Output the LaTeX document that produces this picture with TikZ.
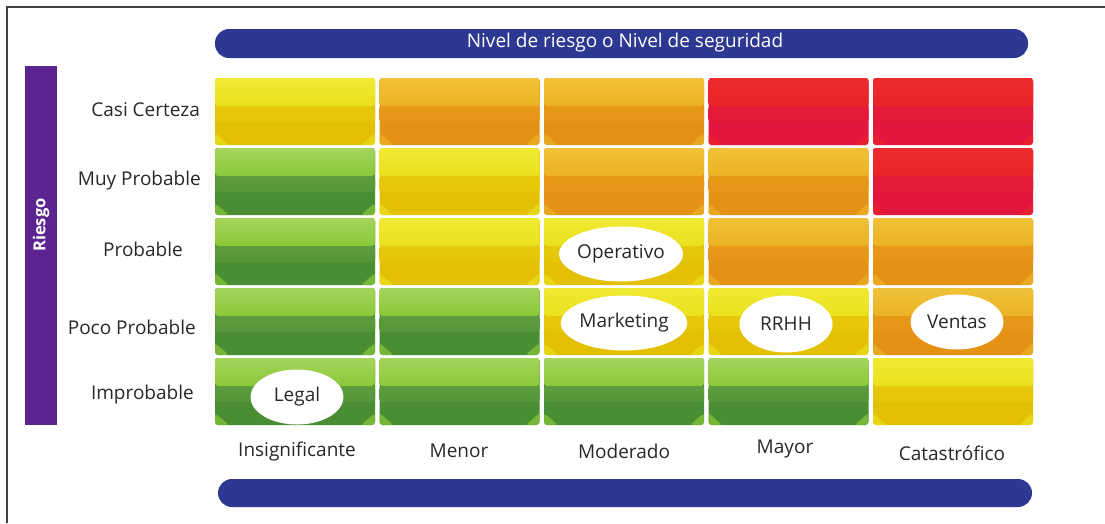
\documentclass[tikz,border=0pt]{standalone}
\usepackage{fontspec}
\setmainfont{Open Sans}
\usetikzlibrary{shapes.geometric}

\definecolor{yHi}{RGB}{240,234,50}
\definecolor{yTop}{RGB}{234,224,30}
\definecolor{yMid}{RGB}{232,206,16}
\definecolor{yBot}{RGB}{228,192,4}
\definecolor{oHi}{RGB}{240,194,56}
\definecolor{oTop}{RGB}{236,178,36}
\definecolor{oMid}{RGB}{232,158,26}
\definecolor{oBot}{RGB}{229,145,20}
\definecolor{rHi}{RGB}{236,44,44}
\definecolor{rTop}{RGB}{234,36,40}
\definecolor{rMid}{RGB}{230,30,52}
\definecolor{rBot}{RGB}{226,22,62}
\definecolor{gHi}{RGB}{166,212,92}
\definecolor{gTop}{RGB}{138,200,56}
\definecolor{gMid}{RGB}{106,166,68}
\definecolor{gBot}{RGB}{74,142,52}
\definecolor{barblue}{RGB}{44,56,145}
\definecolor{barpurple}{RGB}{92,36,144}
\definecolor{txt}{RGB}{40,40,40}

\tikzset{
  lbl/.style={font=\fontsize{19}{22}\selectfont, text=txt, inner sep=0pt},
  cell/.style={rectangle, rounded corners=3pt, minimum width=160pt, minimum height=67pt,
    inner sep=0pt, fill=#1Bot,
    path picture={
      \fill[top color=#1Mid, bottom color=#1Bot]
        ([yshift=-28pt]path picture bounding box.north west) rectangle ([yshift=-44pt]path picture bounding box.north east);
      \fill[top color=#1Hi, bottom color=#1Top]
        (path picture bounding box.north west) rectangle ([yshift=-28pt]path picture bounding box.north east);
      \fill[#1Top, opacity=0.7] (path picture bounding box.south west) -- ++(14pt,0) -- ++(-14pt,12pt) -- cycle;
      \fill[#1Top, opacity=0.7] (path picture bounding box.south east) -- ++(-14pt,0) -- ++(14pt,12pt) -- cycle;
    }},
  tag/.style={ellipse, fill=white, minimum width=93pt, minimum height=55pt, inner sep=0pt,
    font=\fontsize{19}{22}\selectfont, text=txt},
  bar/.style={rectangle, rounded corners=14pt, fill=barblue, minimum height=29pt, inner sep=0pt}
}

\begin{document}
\begin{tikzpicture}[x=1pt,y=-1pt]
  \useasboundingbox (0,0) rectangle (1105,523);
  % frame
  \draw[line width=1.5pt, black!75] (7,523) -- (7,7) -- (1105,7);

  % bars
  \node[bar, minimum width=813pt] (titlebar) at (621.5,43.5) {};
  \node[text=white, font=\fontsize{19}{22}\selectfont, inner sep=0pt] (title) at (625,42.5) {Nivel de riesgo o Nivel de seguridad};
  \node[bar, minimum width=814pt, minimum height=28pt] (footbar) at (625,493) {};
  \node[rectangle, fill=barpurple, minimum width=32pt, minimum height=359pt, inner sep=0pt] (riesgobar) at (41,245.5) {};
  \node[rotate=90, text=white, font=\fontsize{16.5}{19}\selectfont\bfseries] (riesgo) at (41,225) {Riesgo};

  % matrix cells
  \foreach \col/\row/\c in {1/1/y, 2/1/o, 3/1/o, 4/1/r, 5/1/r,
                            1/2/g, 2/2/y, 3/2/o, 4/2/o, 5/2/r,
                            1/3/g, 2/3/y, 3/3/y, 4/3/o, 5/3/o,
                            1/4/g, 2/4/g, 3/4/y, 4/4/y, 5/4/o,
                            1/5/g, 2/5/g, 3/5/g, 4/5/g, 5/5/y}
    \node[cell=\c] (c\row\col) at ({130.5+164.5*\col},{41.5+70*\row}) {};

  % row labels
  \node[lbl, anchor=east] (casi) at (200,110) {Casi Certeza};
  \node[lbl, anchor=east] (muy) at (201,181) {Muy Probable};
  \node[lbl, anchor=east] (prob) at (183,249) {Probable};
  \node[lbl, anchor=east] (poco) at (196,327) {Poco Probable};
  \node[lbl, anchor=east] (improb) at (194,395) {Improbable};

  % column labels
  \node[lbl] (insig) at (297,452) {Insignificante};
  \node[lbl] (menor) at (459,451) {Menor};
  \node[lbl] (moder) at (624,451) {Moderado};
  \node[lbl] (mayor) at (785,449) {Mayor};
  \node[lbl] (catas) at (952,453) {Catastrófico};

  % areas
  \node[tag] (operativo) at (621,254) {Operativo};
  \node[tag, minimum width=100pt] (marketing) at (624,323) {Marketing};
  \node[tag, minimum height=57pt] (rrhh) at (786,324) {RRHH};
  \node[tag] (ventas) at (957,322) {Ventas};
  \node[tag] (legal) at (297,397) {Legal};
\end{tikzpicture}
\end{document}
